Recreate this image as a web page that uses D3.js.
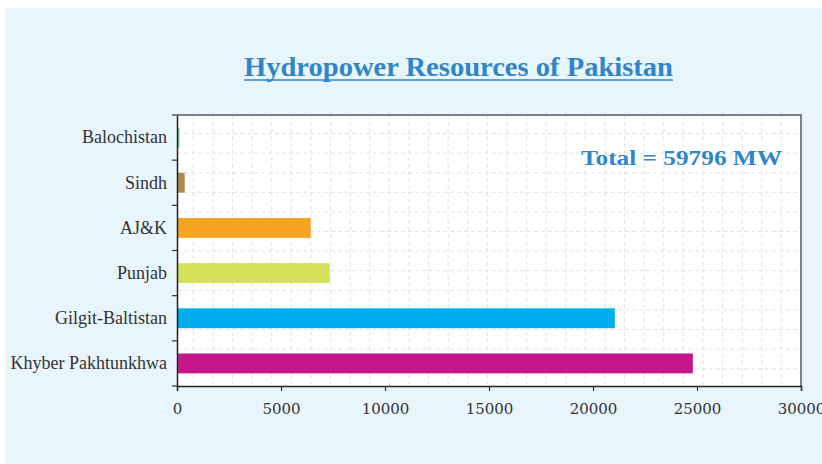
<!DOCTYPE html>
<html><head><meta charset="utf-8">
<script src="https://cdn.jsdelivr.net/npm/d3@7"></script>
<style>html,body{margin:0;padding:0;background:#fff;}</style>
</head><body>
<svg id="c" width="822" height="464"></svg>
<script>
const categories = ["Khyber Pakhtunkhwa","Gilgit-Baltistan","Punjab","AJ&K","Sindh","Balochistan"];
const values = [24800, 21050, 7340, 6430, 370, 120];
const colors = ["#c5178b","#00aeef","#d5e05b","#f7a520","#ae8a4f","#74d1a3"];
const xTicks = [0,5000,10000,15000,20000,25000,30000];
const title = "Hydropower Resources of Pakistan";
const totalLabel = "Total = 59796 MW";

const svg = d3.select("#c");
const W = 822, H = 464;
const m = {left:177, right:801, top:115, bottom:386};

svg.append("rect").attr("x",5).attr("y",8).attr("width",W-5).attr("height",H-8).attr("fill","#e9f5fc");
svg.append("rect").attr("x",m.left).attr("y",m.top).attr("width",m.right-m.left).attr("height",m.bottom-m.top).attr("fill","#fff");

const x = d3.scaleLinear().domain([0,30000]).range([m.left,m.right]);
const y = d3.scaleBand().domain(categories).range([m.bottom,m.top]).paddingInner(0.56).paddingOuter(0.28);

// decorative background grid
const gstep = 19.6;
const g = svg.append("g").attr("stroke","#e3e3e3").attr("stroke-width",1).attr("stroke-dasharray","4,3");
d3.range(m.right - gstep, m.left, -gstep).forEach(px=>{
  g.append("line").attr("x1",px).attr("x2",px).attr("y1",m.top).attr("y2",m.bottom);
});
d3.range(m.top + 18.5, m.bottom, gstep).forEach(py=>{
  g.append("line").attr("x1",m.left).attr("x2",m.right).attr("y1",py).attr("y2",py);
});

// bars
svg.append("g").selectAll("rect").data(categories).join("rect")
  .attr("x", x(0)).attr("y", d=>y(d))
  .attr("width", (d,i)=>x(values[i])-x(0))
  .attr("height", y.bandwidth())
  .attr("fill", (d,i)=>colors[i]);

// frame top/right
svg.append("path").attr("d",`M${m.left},${m.top}H${m.right}V${m.bottom}`).attr("fill","none").attr("stroke","#5a5a5a").attr("stroke-width",1.5);

// x axis
const xa = svg.append("g").attr("transform",`translate(0,${m.bottom})`)
  .call(d3.axisBottom(x).tickValues(xTicks).tickFormat(d3.format("d")).tickSize(5).tickPadding(12));
xa.select(".domain").attr("stroke","#222").attr("stroke-width",1.5);
xa.selectAll(".tick line").attr("stroke","#333").attr("stroke-width",1.2);
xa.selectAll("text").attr("font-family","'DejaVu Serif', serif").attr("font-size",15).attr("fill","#333");

// y axis: labels at band centers, ticks at band boundaries
const ya = svg.append("g").attr("transform",`translate(${m.left},0)`)
  .call(d3.axisLeft(y).tickSize(0).tickPadding(10));
ya.select(".domain").attr("stroke","#222").attr("stroke-width",1.5);
ya.selectAll("text").attr("font-family","'Liberation Serif', serif").attr("font-size",18).attr("fill","#333");
const bounds = d3.range(categories.length+1).map(i=>m.bottom - i*y.step());
svg.append("g").selectAll("line").data(bounds).join("line")
  .attr("x1",m.left-5).attr("x2",m.left).attr("y1",d=>d).attr("y2",d=>d)
  .attr("stroke","#333").attr("stroke-width",1.2);

// title
svg.append("text").attr("x",458.5).attr("y",76).attr("text-anchor","middle")
  .attr("font-family","'Liberation Serif', serif").attr("font-weight","bold").attr("font-size",27)
  .attr("fill","#2f86c8").attr("textLength",429).attr("lengthAdjust","spacingAndGlyphs").text(title);
svg.append("line").attr("x1",244).attr("x2",673).attr("y1",80).attr("y2",80).attr("stroke","#2f86c8").attr("stroke-width",1.5);

// total label
svg.append("text").attr("x",681.5).attr("y",165).attr("text-anchor","middle")
  .attr("font-family","'Liberation Serif', serif").attr("font-weight","bold").attr("font-size",21)
  .attr("fill","#2f86c8").attr("textLength",201).attr("lengthAdjust","spacingAndGlyphs").text(totalLabel);
</script>
</body></html>
